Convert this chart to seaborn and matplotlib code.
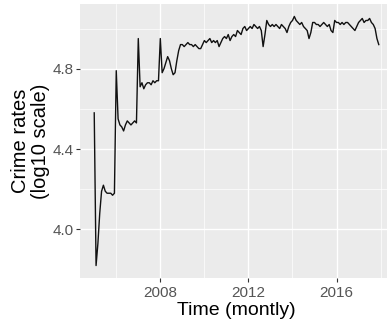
import numpy as np
import pandas as pd
import matplotlib
matplotlib.use("Agg")
import matplotlib.pyplot as plt
import seaborn as sns

start_year = 2005
rates_2005 = [4.58, 3.82, 3.93, 4.08, 4.19, 4.22, 4.19, 4.18, 4.18, 4.18, 4.17, 4.18]
rates_2006 = [4.79, 4.55, 4.52, 4.51, 4.49, 4.52, 4.54, 4.53, 4.52, 4.53, 4.54, 4.53]
rates_2007 = [4.95, 4.71, 4.73, 4.70, 4.72, 4.73, 4.73, 4.72, 4.74, 4.73, 4.74, 4.74]
rates_2008 = [4.95, 4.78, 4.80, 4.83, 4.86, 4.84, 4.80, 4.77, 4.78, 4.84, 4.89, 4.92]
rates_2009 = [4.92, 4.91, 4.92, 4.93, 4.92, 4.92, 4.91, 4.92, 4.91, 4.90, 4.90, 4.92]
rates_2010 = [4.94, 4.93, 4.94, 4.95, 4.93, 4.94, 4.93, 4.94, 4.91, 4.93, 4.95, 4.96]
rates_2011 = [4.95, 4.97, 4.94, 4.96, 4.97, 4.96, 4.99, 4.98, 4.97, 5.00, 5.01, 4.99]
rates_2012 = [5.00, 5.01, 5.00, 5.02, 5.01, 5.00, 5.01, 4.99, 4.91, 4.97, 5.04, 5.02]
rates_2013 = [5.01, 5.02, 5.01, 5.02, 5.01, 5.00, 5.02, 5.01, 5.00, 4.98, 5.01, 5.03]
rates_2014 = [5.04, 5.06, 5.04, 5.03, 5.02, 5.03, 5.01, 5.00, 4.99, 4.95, 4.98, 5.03]
rates_2015 = [5.03, 5.02, 5.02, 5.01, 5.02, 5.03, 5.02, 5.01, 5.02, 4.99, 4.98, 5.04]
rates_2016 = [5.03, 5.03, 5.02, 5.03, 5.02, 5.03, 5.03, 5.02, 5.01, 5.00, 4.99, 5.01]
rates_2017 = [5.03, 5.04, 5.05, 5.03, 5.04, 5.04, 5.05, 5.03, 5.02, 5.00, 4.95, 4.92]

x_ticks = [2008, 2012, 2016]
y_ticks = [4.0, 4.4, 4.8]
y_tick_labels = ["4.0", "4.4", "4.8"]

rates = (rates_2005 + rates_2006 + rates_2007 + rates_2008 + rates_2009 + rates_2010 +
         rates_2011 + rates_2012 + rates_2013 + rates_2014 + rates_2015 + rates_2016 + rates_2017)
time = [start_year + i / 12 for i in range(len(rates))]
df = pd.DataFrame({"time": time, "rate": rates})

plt.rcParams["font.family"] = ["Liberation Sans", "DejaVu Sans"]

fig = plt.figure(figsize=(3.87, 3.33), dpi=100)
ax = fig.add_axes([80 / 387, 1 - 278 / 333, 313 / 387, 274 / 333])
ax.set_facecolor("#EBEBEB")

tmin, tmax = min(time), max(time)
dx = (tmax - tmin) * 0.05
ax.set_xlim(tmin - dx, tmax + dx)
ymin, ymax = min(rates), max(rates)
dy = (ymax - ymin) * 0.05
ax.set_ylim(ymin - dy, ymax + dy)

for v in [2006, 2010, 2014, 2018]:
    ax.axvline(v, color="white", lw=0.5, zorder=0)
for v in [4.2, 4.6, 5.0]:
    ax.axhline(v, color="white", lw=0.5, zorder=0)
for v in x_ticks:
    ax.axvline(v, color="white", lw=1.0, zorder=0)
for v in y_ticks:
    ax.axhline(v, color="white", lw=1.0, zorder=0)

sns.lineplot(data=df, x="time", y="rate", ax=ax, color="#111111", linewidth=1.0)

for s in ax.spines.values():
    s.set_visible(False)
ax.set_xticks(x_ticks)
ax.set_xticklabels([str(t) for t in x_ticks])
ax.set_yticks(y_ticks)
ax.set_yticklabels(y_tick_labels)
ax.tick_params(axis="both", length=3, width=0.8, color="#333333",
               labelcolor="#555555", labelsize=11)
ax.tick_params(axis="x", pad=3)
ax.tick_params(axis="y", pad=1.5)
ax.set_xlabel("Time (montly)", fontsize=14, color="black", labelpad=1)
ax.set_ylabel("Crime rates\n(log10 scale)", fontsize=14.5, color="black",
              labelpad=2, linespacing=1.05)
ax.grid(False)

fig.savefig("out.png", dpi=100)
